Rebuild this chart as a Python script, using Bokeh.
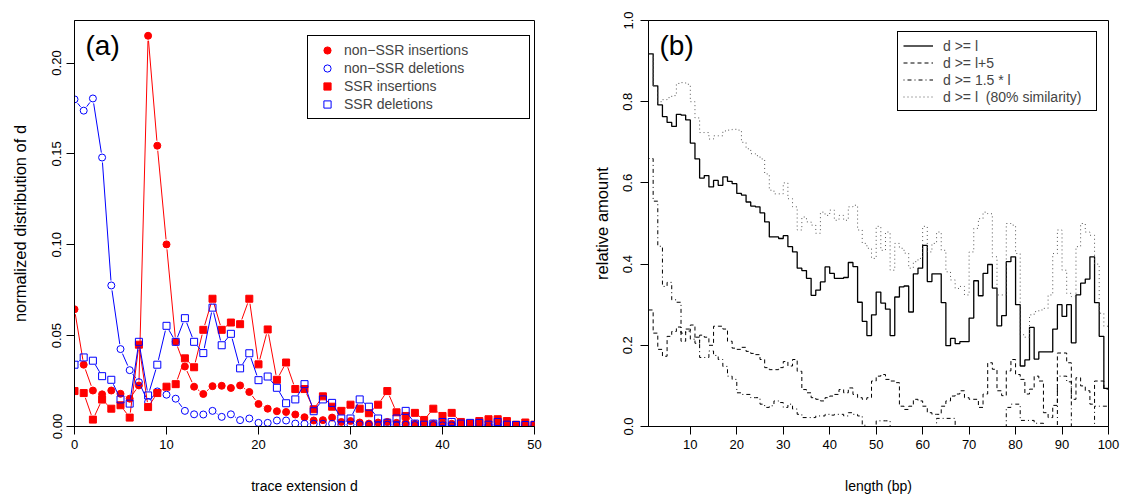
from bokeh.plotting import figure
from bokeh.layouts import row
from bokeh.models import Legend, LegendItem, FixedTicker, PrintfTickFormatter, Label
from bokeh.embed import file_html
from bokeh.resources import INLINE

FONT = "Liberation Sans"

# ---------------- panel (a) data ----------------
d_vals = list(range(51))
nonssr_ins = [0.0645, 0.0340, 0.0198, 0.0177, 0.0198, 0.0180, 0.0153, 0.0226, 0.2150, 0.1545,
              0.1002, 0.0466, 0.0330, 0.0219, 0.0179, 0.0222, 0.0224, 0.0212, 0.0226, 0.0190,
              0.0124, 0.0098, 0.0084, 0.0080, 0.0066, 0.0051, 0.0033, 0.0035, 0.0049, 0.0025,
              0.0030, 0.0022, 0.0016, 0.0022, 0.0025, 0.0020, 0.0020, 0.0015, 0.0020, 0.0015,
              0.0020, 0.0015, 0.0010, 0.0015, 0.0010, 0.0010, 0.0010, 0.0008, 0.0008, 0.0005,
              0.0005]
nonssr_del = [0.1800, 0.1738, 0.1805, 0.1480, 0.0776, 0.0426, 0.0310, 0.0244, 0.0135, 0.0193,
              0.0175, 0.0153, 0.0086, 0.0067, 0.0066, 0.0086, 0.0053, 0.0067, 0.0035, 0.0044,
              0.0020, 0.0020, 0.0033, 0.0033, 0.0016, 0.0015, 0.0015, 0.0015, 0.0015, 0.0010,
              0.0010, 0.0012, 0.0010, 0.0008, 0.0010, 0.0008, 0.0010, 0.0008, 0.0006, 0.0008,
              0.0006, 0.0006, 0.0005, 0.0006, 0.0005, 0.0004, 0.0005, 0.0004, 0.0003, 0.0003,
              0.0002]
ssr_ins = [0.0195, 0.0184, 0.0038, 0.0148, 0.0098, 0.0117, 0.0049, 0.0450, 0.0107, 0.0184,
           0.0219, 0.0233, 0.0375, 0.0326, 0.0532, 0.0703, 0.0532, 0.0572, 0.0563, 0.0703,
           0.0342, 0.0534, 0.0257, 0.0352, 0.0206, 0.0206, 0.0095, 0.0166, 0.0109, 0.0086,
           0.0120, 0.0098, 0.0073, 0.0120, 0.0195, 0.0078, 0.0058, 0.0075, 0.0036, 0.0098,
           0.0058, 0.0075, 0.0025, 0.0016, 0.0030, 0.0040, 0.0040, 0.0030, 0.0010, 0.0022,
           0.0010]
ssr_del = [0.0340, 0.0380, 0.0362, 0.0277, 0.0257, 0.0149, 0.0126, 0.0466, 0.0171, 0.0340,
           0.0554, 0.0466, 0.0596, 0.0466, 0.0404, 0.0654, 0.0447, 0.0510, 0.0320, 0.0403,
           0.0255, 0.0275, 0.0213, 0.0128, 0.0149, 0.0233, 0.0084, 0.0149, 0.0130, 0.0044,
           0.0044, 0.0149, 0.0109, 0.0044, 0.0021, 0.0044, 0.0086, 0.0016, 0.0010, 0.0016,
           0.0025, 0.0025, 0.0016, 0.0020, 0.0020, 0.0010, 0.0025, 0.0010, 0.0008, 0.0008,
           0.0008]
a_labels = ["non\u2212SSR insertions", "non\u2212SSR deletions", "SSR insertions", "SSR deletions"]
a_xticks = [0, 10, 20, 30, 40, 50]
a_yticks = [0.0, 0.05, 0.10, 0.15, 0.20]

# ---------------- panel (b) data ----------------
length_bp = list(range(1, 101))
d_ge_l = [0.918, 0.839, 0.792, 0.763, 0.749, 0.739, 0.769, 0.767, 0.755, 0.698,
          0.659, 0.612, 0.618, 0.590, 0.606, 0.594, 0.615, 0.604, 0.598, 0.574,
          0.570, 0.553, 0.543, 0.541, 0.526, 0.504, 0.467, 0.467, 0.463, 0.470,
          0.443, 0.430, 0.390, 0.384, 0.365, 0.323, 0.336, 0.356, 0.393, 0.377,
          0.365, 0.365, 0.367, 0.404, 0.394, 0.306, 0.259, 0.224, 0.275, 0.331,
          0.304, 0.289, 0.224, 0.319, 0.344, 0.346, 0.282, 0.376, 0.390, 0.446,
          0.357, 0.376, 0.376, 0.305, 0.199, 0.217, 0.204, 0.209, 0.209, 0.267,
          0.359, 0.322, 0.377, 0.399, 0.341, 0.248, 0.273, 0.406, 0.418, 0.300,
          0.149, 0.164, 0.244, 0.166, 0.184, 0.184, 0.184, 0.240, 0.300, 0.271,
          0.300, 0.206, 0.324, 0.353, 0.363, 0.418, 0.305, 0.222, 0.094, 0.094]
d_ge_l5 = [0.287, 0.230, 0.190, 0.173, 0.222, 0.234, 0.245, 0.210, 0.235, 0.250,
           0.205, 0.225, 0.220, 0.200, 0.247, 0.247, 0.240, 0.210, 0.193, 0.190,
           0.195, 0.185, 0.180, 0.177, 0.165, 0.145, 0.140, 0.140, 0.145, 0.160,
           0.149, 0.165, 0.136, 0.091, 0.083, 0.071, 0.067, 0.063, 0.071, 0.075,
           0.079, 0.091, 0.083, 0.095, 0.079, 0.071, 0.067, 0.071, 0.112, 0.124,
           0.128, 0.116, 0.112, 0.108, 0.050, 0.042, 0.050, 0.067, 0.063, 0.050,
           0.034, 0.030, 0.030, 0.050, 0.063, 0.075, 0.080, 0.088, 0.071, 0.067,
           0.067, 0.047, 0.080, 0.157, 0.141, 0.088, 0.076, 0.137, 0.165, 0.128,
           0.116, 0.080, 0.092, 0.124, 0.112, 0.034, 0.022, 0.052, 0.181, 0.181,
           0.157, 0.067, 0.120, 0.100, 0.088, 0.055, 0.112, 0.112, 0.092, 0.092]
d_ge_15l = [0.660, 0.555, 0.444, 0.345, 0.355, 0.312, 0.306, 0.230, 0.240, 0.215,
            0.220, 0.170, 0.170, 0.186, 0.175, 0.165, 0.148, 0.124, 0.116, 0.083,
            0.079, 0.079, 0.071, 0.071, 0.055, 0.047, 0.051, 0.063, 0.059, 0.047,
            0.055, 0.043, 0.030, 0.022, 0.022, 0.022, 0.026, 0.026, 0.030, 0.028,
            0.030, 0.030, 0.026, 0.034, 0.030, 0.026, 0.003, 0.000, 0.000, 0.014,
            0.014, 0.014, 0.000, 0.000, 0.000, 0.000, 0.000, 0.000, 0.000, 0.000,
            0.000, 0.000, 0.020, 0.020, 0.020, 0.020, 0.000, 0.000, 0.000, 0.000,
            0.000, 0.000, 0.000, 0.000, 0.000, 0.000, 0.000, 0.047, 0.055, 0.055,
            0.015, 0.015, 0.015, 0.008, 0.008, 0.000, 0.000, 0.000, 0.124, 0.124,
            0.110, 0.000, 0.000, 0.000, 0.000, 0.000, 0.050, 0.050, 0.050, 0.050]
d_ge_l_80 = [0.918, 0.840, 0.800, 0.805, 0.810, 0.815, 0.845, 0.847, 0.843, 0.800,
             0.760, 0.724, 0.724, 0.708, 0.716, 0.716, 0.728, 0.730, 0.732, 0.730,
             0.700, 0.684, 0.672, 0.667, 0.659, 0.622, 0.582, 0.573, 0.573, 0.600,
             0.561, 0.541, 0.484, 0.516, 0.504, 0.496, 0.476, 0.528, 0.520, 0.533,
             0.508, 0.520, 0.508, 0.541, 0.545, 0.484, 0.451, 0.439, 0.414, 0.493,
             0.434, 0.479, 0.385, 0.451, 0.439, 0.427, 0.390, 0.406, 0.414, 0.493,
             0.430, 0.451, 0.479, 0.434, 0.381, 0.361, 0.340, 0.345, 0.324, 0.430,
             0.488, 0.512, 0.528, 0.524, 0.418, 0.324, 0.324, 0.500, 0.496, 0.426,
             0.226, 0.220, 0.275, 0.283, 0.287, 0.291, 0.324, 0.426, 0.484, 0.385,
             0.328, 0.320, 0.443, 0.500, 0.479, 0.471, 0.400, 0.279, 0.247, 0.240]
b_labels = ["d >= l", "d >= l+5", "d >= 1.5 * l", "d >= l  (80% similarity)"]
b_xticks = [10, 20, 30, 40, 50, 60, 70, 80, 90, 100]
b_yticks = [0.0, 0.2, 0.4, 0.6, 0.8, 1.0]

# ---------------- layout constants ----------------
H = 496
TOP, BOTTOM = 20, 69
A_W, A_LEFT, A_RIGHT = 560, 74, 26
B_W, B_LEFT, B_RIGHT = 561, 88, 13
FRAME_H = H - TOP - BOTTOM
A_FRAME_W = A_W - A_LEFT - A_RIGHT
A_XMAX, A_YMAX = 50, 0.2234
TICK_FS = "13px"
XLAB_FS = "14px"
YLAB_FS = "16.5px"
LEG_FS = "14px"


def style(p, xticks, yticks, yfmt, xlabel, ylabel, xstand, ystand, ylab_standoff):
    p.xgrid.grid_line_color = None
    p.ygrid.grid_line_color = None
    p.outline_line_color = "black"
    p.outline_line_alpha = 1
    p.outline_line_width = 1
    p.background_fill_color = "white"
    p.border_fill_color = "white"
    p.xaxis.ticker = FixedTicker(ticks=xticks)
    p.yaxis.ticker = FixedTicker(ticks=yticks)
    p.yaxis.formatter = PrintfTickFormatter(format=yfmt)
    p.xaxis.axis_label = xlabel
    p.yaxis.axis_label = ylabel
    for ax in (p.xaxis[0], p.yaxis[0]):
        ax.axis_line_color = "black"
        ax.major_tick_line_color = "black"
        ax.major_tick_out = 8
        ax.major_tick_in = 0
        ax.minor_tick_line_color = None
        ax.major_label_text_font = FONT
        ax.major_label_text_font_size = TICK_FS
        ax.major_label_text_color = "black"
        ax.axis_label_text_font = FONT
        ax.axis_label_text_font_style = "normal"
        ax.axis_label_text_color = "black"
    p.xaxis.major_label_standoff = 5
    p.yaxis.major_label_standoff = ylab_standoff
    p.xaxis.axis_label_text_font_size = XLAB_FS
    p.yaxis.axis_label_text_font_size = YLAB_FS
    p.xaxis.axis_label_standoff = xstand
    p.yaxis.axis_label_standoff = ystand
    p.yaxis.major_label_orientation = "vertical"


# ---------------- panel (a) ----------------
pa = figure(width=A_W, height=H, x_range=(0, A_XMAX), y_range=(0, A_YMAX),
            output_backend="svg", toolbar_location=None,
            min_border_left=A_LEFT, min_border_right=A_RIGHT,
            min_border_top=TOP, min_border_bottom=BOTTOM)
style(pa, a_xticks, a_yticks, "%.2f", "trace extension d", "normalized distribution of d", 26, 21, 5)

SX = A_FRAME_W / A_XMAX
SY = FRAME_H / A_YMAX
GAP = 5.0


def gapped(xs, ys):
    x0, y0, x1, y1 = [], [], [], []
    for i in range(len(xs) - 1):
        dx = (xs[i + 1] - xs[i])
        dy = (ys[i + 1] - ys[i])
        L = ((dx * SX) ** 2 + (dy * SY) ** 2) ** 0.5
        if L <= 2 * GAP:
            continue
        t = GAP / L
        x0.append(xs[i] + t * dx)
        y0.append(ys[i] + t * dy)
        x1.append(xs[i + 1] - t * dx)
        y1.append(ys[i + 1] - t * dy)
    return x0, y0, x1, y1


series_a = [
    (nonssr_ins, "#FF0000", "circle", True),
    (nonssr_del, "#0000FF", "circle", False),
    (ssr_ins, "#FF0000", "square", True),
    (ssr_del, "#0000FF", "square", False),
]
items_a = []
for (ys, col, mk, filled), lab in zip(series_a, a_labels):
    x0, y0, x1, y1 = gapped(d_vals, ys)
    pa.segment(x0=x0, y0=y0, x1=x1, y1=y1, line_color=col, line_width=1)
    r = pa.scatter(d_vals, ys, marker=mk, size=7,
                   fill_color=col if filled else None, line_color=col, line_width=1)
    items_a.append(LegendItem(label=lab, renderers=[r]))

leg_a = Legend(items=items_a, location=(233, FRAME_H - 100),
               padding=5, spacing=0, glyph_width=28, glyph_height=18, label_height=18,
               label_standoff=3, label_width=180,
               label_text_font=FONT, label_text_font_size=LEG_FS,
               border_line_color="black", border_line_width=1, border_line_alpha=1,
               background_fill_color="white", background_fill_alpha=1)
pa.add_layout(leg_a, "center")
pa.add_layout(Label(x=11, y=FRAME_H - 26, x_units="screen", y_units="screen", text="(a)",
                    text_font=FONT, text_font_size="28px", text_baseline="middle",
                    text_align="left", text_color="black"))

# ---------------- panel (b) ----------------
pb = figure(width=B_W, height=H, x_range=(1, 100), y_range=(0, 1.0),
            output_backend="svg", toolbar_location=None,
            min_border_left=B_LEFT, min_border_right=B_RIGHT,
            min_border_top=TOP, min_border_bottom=BOTTOM)
style(pb, b_xticks, b_yticks, "%.1f", "length (bp)", "relative amount", 26, 10, 8)

series_b = [
    (d_ge_l, "black", "solid", 1.3),
    (d_ge_l5, "black", "4 3", 1),
    (d_ge_15l, "black", "1 3 4 3", 1),
    (d_ge_l_80, "#555555", "1 3", 1),
]
items_b = []
for (ys, col, dash, lw), lab in zip(series_b, b_labels):
    r = pb.step(length_bp, ys, mode="after", line_color=col, line_dash=dash, line_width=lw)
    items_b.append(LegendItem(label=lab, renderers=[r]))

leg_b = Legend(items=items_b, location=(249, FRAME_H - 92),
               padding=5, spacing=0, glyph_width=30, glyph_height=17, label_height=17,
               label_standoff=10, label_width=148,
               label_text_font=FONT, label_text_font_size=LEG_FS,
               border_line_color="black", border_line_width=1, border_line_alpha=1,
               background_fill_color="white", background_fill_alpha=1)
pb.add_layout(leg_b, "center")
pb.add_layout(Label(x=11, y=FRAME_H - 26, x_units="screen", y_units="screen", text="(b)",
                    text_font=FONT, text_font_size="28px", text_baseline="middle",
                    text_align="left", text_color="black"))

layout = row(pa, pb)
open("out.html", "w").write(file_html(layout, INLINE))
